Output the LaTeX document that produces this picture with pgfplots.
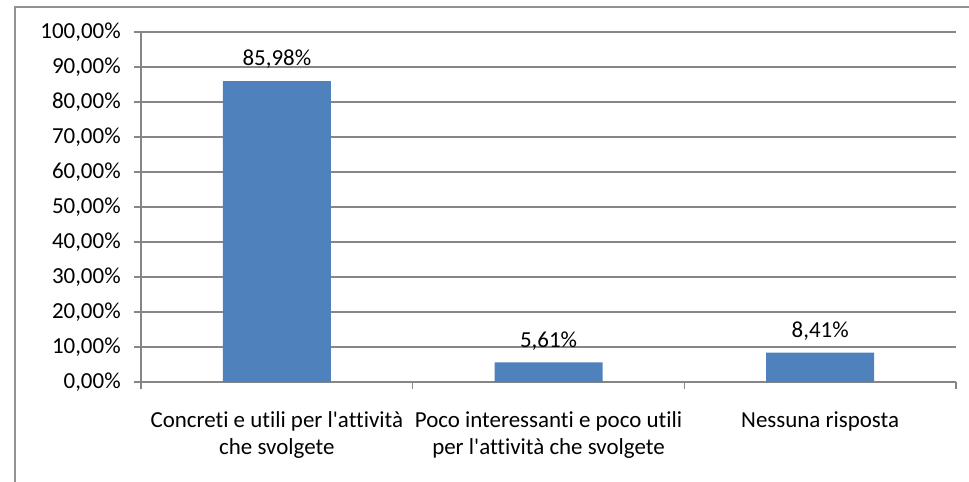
\documentclass[border=0pt]{standalone}
\usepackage{pgfplots}
\pgfplotsset{compat=1.18}
\usepackage{fontspec}
\setmainfont{Carlito}[Ligatures=NoCommon]
\definecolor{barblue}{HTML}{4F81BD}
\definecolor{axgray}{HTML}{868686}
\begin{document}
\begin{tikzpicture}[x=1pt,y=1pt,font=\fontsize{17.2}{20.2}\selectfont]
\useasboundingbox (0,0) rectangle (726.75,360.75);
\draw[color=axgray!90, line width=1.5pt] (11.25,-2) -- (11.25,355.5) -- (730,355.5);
\begin{axis}[
  at={(105.75pt,74.25pt)}, anchor=south west,
  scale only axis, width=611.25pt, height=262.5pt,
  ymin=0, ymax=100, ytick={0,10,...,100},
  xmin=-0.5, xmax=2.5,
  xtick={-0.5,0.5,1.5,2.5}, xticklabels={},
  extra x ticks={0,1,2},
  extra x tick labels={{Concreti e utili per l\textquotesingle attività\\che svolgete},{Poco interessanti e poco utili\\per l\textquotesingle attività che svolgete},{Nessuna risposta\\\strut}},
  extra x tick style={major tick length=0pt, grid=none},
  xticklabel style={align=center, font=\fontsize{17.2}{20.2}\selectfont, anchor=north, yshift=-19pt},
  axis x line*=bottom, axis y line*=left,
  axis line style={draw=axgray, line width=1pt},
  tick style={draw=axgray, line width=1pt},
  major tick length=5.25pt,
  tick align=outside,
  ymajorgrids=true,
  major grid style={draw=axgray, line width=0.9pt},
  /pgf/number format/assume math mode=true,
  yticklabel={\pgfmathprintnumber[fixed,fixed zerofill,precision=2,use comma]{\tick}\%},
  yticklabel style={font=\fontsize{17.2}{20.2}\selectfont, xshift=-6.5pt},
  nodes near coords={\pgfmathprintnumber[fixed,fixed zerofill,precision=2,use comma]{\pgfplotspointmeta}\%},
  nodes near coords style={anchor=base, yshift=11.5pt, font=\fontsize{17.2}{20.2}\selectfont},
  clip=false,
]
\addplot[ybar, bar width=81pt, fill=barblue, draw=none] coordinates {(0,85.98) (1,5.61) (2,8.41)};
\end{axis}
\end{tikzpicture}
\end{document}
